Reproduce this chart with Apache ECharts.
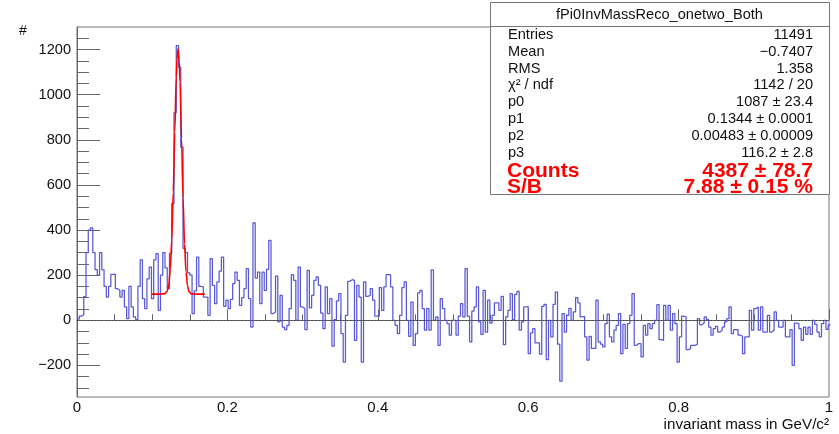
<!DOCTYPE html>
<html>
<head>
<meta charset="utf-8">
<script src="https://cdn.jsdelivr.net/npm/echarts@6/dist/echarts.min.js"></script>
<style>
  html, body { margin: 0; padding: 0; background: #fff; }
  #chart { width: 839px; height: 434px; }
</style>
</head>
<body>
<div id="chart"></div>
<script>
// histogram bins, 0.003 GeV/c^2 wide, starting at 0
const BIN_W = 0.003;
const counts = [
  5, 18, 25, 105, 300, 400, 410, 300, 225, 200,
  300, 224, 150, 103, 150, 204, 204, 140, 133, 103,
  133, 60, 7, 150, 59, 15, 3, 150, 268, 96,
  52, 184, 236, 96, 268, 295, 44, 200, 300, 232,
  140, 297, 518, 920, 1218, 1122, 768, 319, 300, 210,
  200, 30, 130, 280, 150,
  148, 103, 103, 22, 273, 155, 74, 170, 218, 280,
  62, 89, 52, 93, 162, 214, 177, 66, 100, 140,
  229, 96, -30, 432, 187, 214, 74, 214, 133, 226,
  354, 30, 37, 196, -7, 111, -30, -41, -22, 52,
  202, 177, 0, 236, 59, 52, -41, 221, 55, 111,
  177, 192, 155, 32, -37, 148,
  30,
  96, -115, 3, 86, 118, -59, -185, 22, 173, 180,
  177, -89, 155, 103, -185, 170, 106, 111, 140, 89,
  18, 18, 145, 44, 148, 202, 202, 148, 0, -22,
  -59, 22, 145, 170, 0, -71, 81, -111, -59, 121,
  133, 52, -44, 52, -44, 224, 0, 15, -111, 96,
  52, 0, -15, -66,
  0, 0, -66, 18, 74, 15, 229, 18, -96, 41,
  59, 148, -7, -62, 133, -52, 89, -12, 22, 77,
  77, 44, 106, -108, 15, 44, 118, 3, 115, 128,
  -44, -7, 59, 62, -148, -56, -37, -100, -100, -150,
  62, 71, -174, 0, -74, 71, 125, -106, -270, 30,
  -52, 22, 53, 0, 37, 100,
  77, 15, 18, -74, -177, -71, -125, -125, 89, -96,
  -106, -118, -15, 27, -74, -96, -44, -22, 30, -148,
  -18, -125, -15, 22, 118, -111, -103, -103, -162, -22,
  -66, -15, -37, -15, 0, 69, -86, -89, 66, 0,
  66, -44, 30, -15, -185, -74, 18, 15, -130, -125,
  -111, -111, -106, 7, -20,
  -12, 15, 3, -30, -66, -37, -27, -52, -44, -30,
  -7, 7, 59, -59, -41, -41, -66, -71, -148, -74,
  -74, 44, -44, 52, 59, -44, 59, -52, -52, 22,
  -52, -44, 37, 0, -30, -30, 0, -74, -74, -41,
  -200, -12, -15, -37, -89, -30, -62, -30, -62, 0,
  -18, -52, -74, -15, 0, -40, -20
];

// red fit curve
const fitX = [0.0995, 0.110, 0.117, 0.120, 0.122, 0.124, 0.126, 0.128, 0.130, 0.132, 0.133,
  0.1344, 0.136, 0.137, 0.139, 0.141, 0.143, 0.145, 0.147, 0.149, 0.152, 0.160, 0.170];
const fitY = [116, 116, 118, 129, 156, 223, 356, 568, 834, 1077, 1158,
  1203, 1145, 1056, 807, 543, 339, 214, 152, 127, 117, 116, 116];

const yMajor = [-200, 0, 200, 400, 600, 800, 1000, 1200];
const yMinor = [-300, -250, -150, -100, -50, 50, 100, 150, 250, 300, 350, 450, 500, 550,
  650, 700, 750, 850, 900, 950, 1050, 1100, 1150, 1250];

const statTitle = 'fPi0InvMassReco_onetwo_Both';
const statLabels = ['Entries', 'Mean', 'RMS', 'χ² / ndf', 'p0', 'p1', 'p2', 'p3'];
const statValues = ['11491', '−0.7407', '1.358', '1142 / 20', '1087 ± 23.4',
  '0.1344 ± 0.0001', '0.00483 ± 0.00009', '116.2 ± 2.8'];
const bigLabels = ['Counts', 'S/B'];
const bigValues = ['4387 ± 78.7', '7.88 ± 0.15 %'];

const FONT = '"Liberation Sans", Arial, Helvetica, sans-serif';

// step outline: one point per bin low edge, plus closing point
const histData = counts.map((v, i) => [i * BIN_W, v]);
histData.push([counts.length * BIN_W, counts[counts.length - 1]]);
const fitData = fitX.map((x, i) => [x, fitY[i]]);

const chart = echarts.init(document.getElementById('chart'), null, { renderer: 'canvas' });

// stats box
const BOX = { x: 490, y: 2, w: 339, h: 192 };
const graphics = [
  {
    type: 'rect', z: 100,
    shape: { x: BOX.x + 0.5, y: BOX.y + 0.5, width: BOX.w, height: BOX.h },
    style: { fill: '#fff', stroke: '#777', lineWidth: 1 }
  },
  {
    type: 'line', z: 101,
    shape: { x1: BOX.x, y1: 26.5, x2: BOX.x + BOX.w, y2: 26.5 },
    style: { stroke: '#777', lineWidth: 1 }
  },
  {
    type: 'text', z: 102, x: BOX.x + BOX.w / 2, y: 15,
    style: { text: statTitle, fill: '#111', font: '14.6px ' + FONT, textAlign: 'center', textVerticalAlign: 'middle' }
  },
  {
    type: 'text', x: 23, y: 31,
    style: { text: '#', fill: '#111', font: '14px ' + FONT, textAlign: 'center', textVerticalAlign: 'middle' }
  },
  {
    type: 'text', x: 829, y: 425,
    style: { text: 'invariant mass in GeV/c²', fill: '#111', font: '15.2px ' + FONT, textAlign: 'right', textVerticalAlign: 'middle' }
  }
];
statLabels.forEach((lab, i) => {
  const y = 35 + i * 16.8;
  graphics.push({
    type: 'text', z: 102, x: 508, y: y,
    style: { text: lab, fill: '#111', font: '14.6px ' + FONT, textAlign: 'left', textVerticalAlign: 'middle' }
  });
  graphics.push({
    type: 'text', z: 102, x: 813, y: y,
    style: { text: statValues[i], fill: '#111', font: '14.6px ' + FONT, textAlign: 'right', textVerticalAlign: 'middle' }
  });
});
bigLabels.forEach((lab, i) => {
  const y = 171 + i * 16;
  graphics.push({
    type: 'text', z: 102, x: 507, y: y,
    style: { text: lab, fill: '#ff0000', font: 'bold 21px ' + FONT, textAlign: 'left', textVerticalAlign: 'middle' }
  });
  graphics.push({
    type: 'text', z: 102, x: 813, y: y,
    style: { text: bigValues[i], fill: '#ff0000', font: 'bold 21px ' + FONT, textAlign: 'right', textVerticalAlign: 'middle' }
  });
});

const minusFmt = v => (v < 0 ? '−' + Math.abs(v) : String(v));

chart.setOption({
  animation: false,
  backgroundColor: '#fff',
  grid: {
    left: 77, right: 10, top: 27, bottom: 37,
    show: true, borderColor: '#777', borderWidth: 1, backgroundColor: 'transparent'
  },
  xAxis: {
    type: 'value', min: 0, max: 1, interval: 0.2,
    axisLine: { show: true, lineStyle: { color: '#666', width: 1 } },
    axisTick: { show: true, inside: true, length: 11, lineStyle: { color: '#666' } },
    minorTick: { show: true, splitNumber: 4, length: 6, lineStyle: { color: '#666' } },
    axisLabel: { color: '#111', fontSize: 15, fontFamily: FONT, margin: 3,
      formatter: v => String(Math.round(v * 10) / 10) },
    splitLine: { show: false }
  },
  yAxis: [
    {
      type: 'value', min: -340, max: 1300,
      axisLine: { show: true, lineStyle: { color: '#666', width: 1 } },
      axisTick: { show: true, inside: true, length: 23, customValues: yMajor, lineStyle: { color: '#666' } },
      axisLabel: { color: '#111', fontSize: 14.6, fontFamily: FONT, margin: 6,
        customValues: yMajor, formatter: minusFmt },
      splitLine: { show: false }
    },
    {
      type: 'value', min: -340, max: 1300, position: 'left',
      axisLine: { show: false },
      axisTick: { show: true, inside: true, length: 12, customValues: yMinor, lineStyle: { color: '#666' } },
      axisLabel: { show: false },
      splitLine: { show: false }
    }
  ],
  graphic: graphics,
  series: [
    {
      type: 'line', name: 'hist', data: histData, step: 'end',
      showSymbol: false, symbol: 'none',
      lineStyle: { color: '#5858d4', width: 1.25 },
      z: 3,
      markLine: {
        silent: true, symbol: 'none', label: { show: false },
        lineStyle: { color: '#444', type: [1.5, 2], width: 1 },
        data: [{ yAxis: 0 }]
      }
    },
    {
      type: 'line', name: 'fit', data: fitData, smooth: 0.3, smoothMonotone: 'x',
      showSymbol: false, symbol: 'none',
      lineStyle: { color: '#ff0000', width: 1.6 },
      z: 4
    }
  ]
});
</script>
</body>
</html>
